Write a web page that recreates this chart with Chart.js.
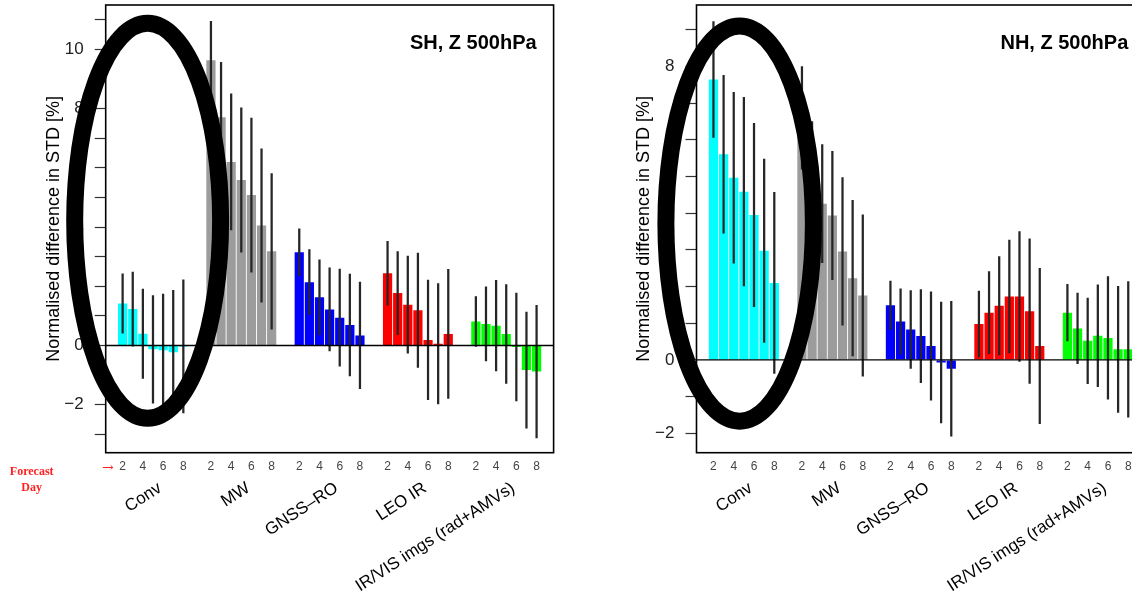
<!DOCTYPE html>
<html>
<head>
<meta charset="utf-8">
<script src="https://cdn.jsdelivr.net/npm/chart.js@4.4.1/dist/chart.umd.min.js"></script>
<style>
  html, body { margin: 0; padding: 0; background: #fff; overflow: hidden; width: 1132px; height: 606px; position: relative; }
  canvas { position: absolute; top: 0; }
  #sh { left: 0; }
  #nh { left: 566px; }
</style>
</head>
<body>
<canvas id="sh" width="566" height="606"></canvas>
<canvas id="nh" width="600" height="606"></canvas>
<script>
// categories
const groups = ['Conv', 'MW', 'GNSS\u2013RO', 'LEO IR', 'IR/VIS imgs (rad+AMVs)'];
const days = [2, 3, 4, 5, 6, 7, 8];
const groupColors = ['#00ffff', '#9c9c9c', '#0000ff', '#ff0000', '#00ff00'];

// SH, Z 500hPa : normalised difference in STD [%] and error bar half widths
const shConv     = [1.42, 1.23, 0.40, -0.13, -0.16, -0.23, -0.03];
const shConvErr  = [1.00, 1.25, 1.51, 1.82, 1.90, 2.09, 2.25];
const shMW       = [9.63, 7.71, 6.20, 5.59, 5.08, 4.05, 3.18];
const shMWErr    = [1.32, 1.85, 2.30, 2.44, 2.60, 2.59, 2.63];
const shGnss     = [3.15, 2.14, 1.63, 1.22, 0.94, 0.69, 0.34];
const shGnssErr  = [0.79, 1.10, 1.26, 1.40, 1.64, 1.72, 1.80];
const shLeo      = [2.44, 1.77, 1.38, 1.19, 0.19, 0.06, 0.39];
const shLeoErr   = [1.08, 1.40, 1.64, 1.93, 2.02, 2.03, 2.18];
const shIrvis    = [0.81, 0.73, 0.67, 0.39, -0.05, -0.83, -0.88];
const shIrvisErr = [0.84, 1.25, 1.53, 1.67, 1.82, 1.96, 2.24];

// NH, Z 500hPa
const nhConv     = [7.65, 5.61, 4.97, 4.59, 3.95, 2.98, 2.10];
const nhConvErr  = [1.58, 2.15, 2.33, 2.57, 2.50, 2.50, 2.47];
const nhMW       = [6.60, 5.00, 4.26, 3.94, 2.96, 2.23, 1.76];
const nhMWErr    = [1.40, 1.50, 1.61, 1.75, 2.01, 2.12, 2.20];
const nhGnss     = [1.49, 1.05, 0.83, 0.65, 0.38, -0.07, -0.24];
const nhGnssErr  = [0.66, 0.89, 1.06, 1.27, 1.48, 1.65, 1.84];
const nhLeo      = [0.98, 1.29, 1.48, 1.73, 1.73, 1.33, 0.38];
const nhLeoErr   = [0.90, 1.12, 1.34, 1.54, 1.77, 1.97, 2.12];
const nhIrvis    = [1.29, 0.86, 0.52, 0.66, 0.60, 0.29, 0.29];
const nhIrvisErr = [0.77, 0.96, 1.17, 1.39, 1.67, 1.72, 1.85];

const FONT = "'Liberation Sans', Arial, Helvetica, sans-serif";

// bar layout in x units (barplot style: slot 1.1, gap between groups)
const slot = 1.1, groupStep = 9.6;
const pos = (g, i) => g * groupStep + i * slot;
const tickIdx = [0, 2, 4, 6];
const tickPos = [], tickLabels = [];
groups.forEach((_, g) => tickIdx.forEach(i => { tickPos.push(pos(g, i)); tickLabels.push(String(days[i])); }));

const fmt = v => v < 0 ? '\u2212' + Math.abs(v) : String(v);

const decor = {
  id: 'decor',
  afterDatasetsDraw(chart) {
    const { ctx, chartArea: a, scales: { y } } = chart;
    ctx.save();
    ctx.strokeStyle = '#000';
    ctx.lineWidth = 1.3;
    const y0 = y.getPixelForValue(0);
    ctx.beginPath(); ctx.moveTo(a.left, y0); ctx.lineTo(a.right, y0); ctx.stroke();
    ctx.lineWidth = 1.6;
    ctx.strokeRect(a.left, a.top, a.right - a.left, a.bottom - a.top);
    ctx.restore();
  },
  afterDraw(chart, args, o) {
    const { ctx, chartArea: a, scales: { x, y } } = chart;
    ctx.save();
    // panel title
    ctx.fillStyle = '#000';
    ctx.font = 'bold 20px ' + FONT;
    ctx.textAlign = 'right'; ctx.textBaseline = 'middle';
    ctx.fillText(o.title, a.right - 17, a.top + 38);
    // y axis title
    ctx.save();
    ctx.translate(a.left - 52, (a.top + a.bottom) / 2);
    ctx.rotate(-Math.PI / 2);
    ctx.textAlign = 'center';
    ctx.font = '18px ' + FONT;
    ctx.fillText('Normalised difference in STD [%]', 0, 0);
    ctx.restore();
    // group labels
    ctx.font = '17px ' + FONT;
    groups.forEach((name, g) => {
      const cx = x.getPixelForValue(pos(g, 3)) + 7;
      ctx.save();
      ctx.translate(cx, a.bottom + 34);
      ctx.rotate(-33 * Math.PI / 180);
      ctx.textAlign = 'right'; ctx.textBaseline = 'middle';
      ctx.fillText(name, 0, 0);
      ctx.restore();
    });
    // forecast day marker
    if (o.forecast) {
      ctx.fillStyle = '#ff2020';
      ctx.font = 'bold 12px "Liberation Serif", "Times New Roman", serif';
      ctx.textAlign = 'center'; ctx.textBaseline = 'middle';
      ctx.fillText('Forecast', a.left - 74, a.bottom + 19);
      ctx.fillText('Day', a.left - 74, a.bottom + 35);
      ctx.font = '14px "DejaVu Serif", serif';
      ctx.textAlign = 'right';
      ctx.fillText('\u2192', a.left + 8, a.bottom + 16);
    }
    // highlight ring
    const r = o.ring;
    const ex = x.getPixelForValue(r.x), ey = y.getPixelForValue(r.y);
    const erx = Math.abs(x.getPixelForValue(r.x + r.rx) - ex);
    const ery = Math.abs(y.getPixelForValue(r.y + r.ry) - ey);
    ctx.strokeStyle = '#000';
    ctx.lineWidth = 17;
    ctx.beginPath();
    ctx.ellipse(ex, ey, erx, ery, 0, 0, Math.PI * 2);
    ctx.stroke();
    ctx.restore();
  }
};

function makePanel(id, title, values, errs, yMin, yMax, axisW, padRight, ring, forecast) {
  const datasets = [];
  values.forEach((vals, g) => {
    datasets.push({
      data: vals.map((v, i) => ({ x: pos(g, i), y: v })),
      backgroundColor: groupColors[g],
      grouped: false, order: 2,
      barPercentage: 0.91, categoryPercentage: 1
    });
    datasets.push({
      data: vals.map((v, i) => ({ x: pos(g, i), y: [v - errs[g][i], v + errs[g][i]] })),
      backgroundColor: '#262626',
      grouped: false, order: 1,
      barThickness: 1.6
    });
  });
  return new Chart(document.getElementById(id), {
    type: 'bar',
    data: { datasets },
    plugins: [decor],
    options: {
      responsive: false,
      animation: false,
      layout: { padding: { top: 5, right: padRight, left: 0, bottom: 0 } },
      plugins: {
        legend: { display: false },
        tooltip: { enabled: false },
        decor: { title, ring, forecast }
      },
      scales: {
        x: {
          type: 'linear', min: -1.84, max: 46.85, offset: false,
          afterBuildTicks: s => { s.ticks = tickPos.map(v => ({ value: v })); },
          ticks: {
            autoSkip: false, maxRotation: 0, minRotation: 0,
            callback: (v, i) => tickLabels[i],
            font: { family: FONT, size: 12 }, color: '#444', padding: 7
          },
          grid: { display: false, drawTicks: false },
          border: { display: false },
          afterFit: s => { s.height = 153.3; s.paddingLeft = 0; s.paddingRight = 0; }
        },
        y: {
          min: yMin, max: yMax,
          afterBuildTicks: s => {
            const t = [];
            for (let v = Math.ceil(yMin); v <= Math.floor(yMax); v++) t.push({ value: v });
            s.ticks = t;
          },
          ticks: {
            callback: v => v % 2 === 0 ? fmt(v) : '',
            font: { family: FONT, size: 17 }, color: '#222', padding: 11
          },
          grid: { drawOnChartArea: false, drawTicks: true, tickLength: 11, tickColor: '#333', tickWidth: 1.2 },
          border: { display: false },
          afterFit: s => { s.width = axisW; s.paddingTop = 0; s.paddingBottom = 0; }
        }
      }
    }
  });
}

makePanel('sh', 'SH, Z 500hPa',
  [shConv, shMW, shGnss, shLeo, shIrvis],
  [shConvErr, shMWErr, shGnssErr, shLeoErr, shIrvisErr],
  -3.62, 11.5, 105.7, 12.4,
  { x: 2.72, y: 4.21, rx: 7.93, ry: 6.67 }, true);

makePanel('nh', 'NH, Z 500hPa',
  [nhConv, nhMW, nhGnss, nhLeo, nhIrvis],
  [nhConvErr, nhMWErr, nhGnssErr, nhLeoErr, nhIrvisErr],
  -2.53, 9.68, 130.5, 20.7,
  { x: 2.84, y: 3.72, rx: 8.0, ry: 5.39 }, false);
</script>
</body>
</html>
